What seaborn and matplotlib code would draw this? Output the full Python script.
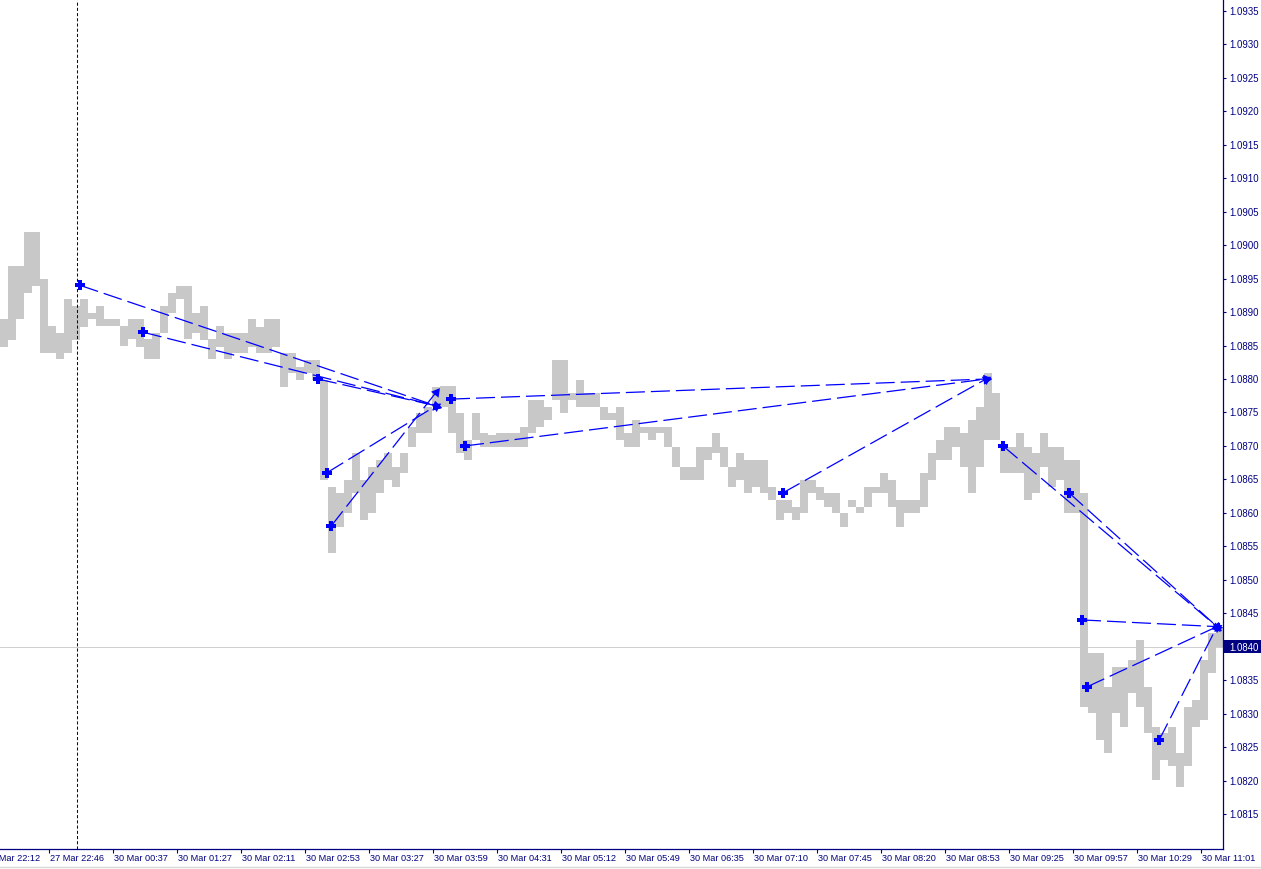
import numpy as np
import pandas as pd
import matplotlib
matplotlib.use("Agg")
import matplotlib.pyplot as plt
import seaborn as sns
from matplotlib.lines import Line2D
from matplotlib.patches import Rectangle

# ---------------- data (EURUSD M1, aggregated 4 bars per column) ----------------
bar_high = [
    1.08890, 1.08969, 1.08969, 1.09020, 1.09020, 1.08950, 1.08879, 1.08869, 1.08920, 1.08909,
    1.08920, 1.08899, 1.08909, 1.08890, 1.08890, 1.08879, 1.08890, 1.08890, 1.08860, 1.08869,
    1.08909, 1.08929, 1.08939, 1.08939, 1.08899, 1.08909, 1.08860, 1.08879, 1.08869, 1.08869,
    1.08869, 1.08890, 1.08878, 1.08890, 1.08890, 1.08839, 1.08839, 1.08818, 1.08828, 1.08828,
    1.08799, 1.08639, 1.08630, 1.08649, 1.08689, 1.08649, 1.08669, 1.08679, 1.08689, 1.08669,
    1.08689, 1.08728, 1.08749, 1.08758, 1.08788, 1.08790, 1.08790, 1.08749, 1.08709, 1.08749,
    1.08719, 1.08716, 1.08719, 1.08719, 1.08719, 1.08728, 1.08769, 1.08769, 1.08758, 1.08828,
    1.08828, 1.08779, 1.08799, 1.08779, 1.08779, 1.08758, 1.08749, 1.08758, 1.08719, 1.08739,
    1.08728, 1.08728, 1.08728, 1.08728, 1.08699, 1.08669, 1.08669, 1.08699, 1.08699, 1.08719,
    1.08699, 1.08669, 1.08689, 1.08679, 1.08679, 1.08679, 1.08639, 1.08619, 1.08619, 1.08609,
    1.08649, 1.08649, 1.08639, 1.08630, 1.08630, 1.08600, 1.08619, 1.08609, 1.08639, 1.08639,
    1.08660, 1.08649, 1.08619, 1.08619, 1.08619, 1.08660, 1.08689, 1.08709, 1.08728, 1.08728,
    1.08719, 1.08739, 1.08758, 1.08809, 1.08779, 1.08699, 1.08699, 1.08719, 1.08699, 1.08689,
    1.08719, 1.08699, 1.08699, 1.08679, 1.08679, 1.08630, 1.08391, 1.08391, 1.08340, 1.08370,
    1.08370, 1.08380, 1.08410, 1.08340, 1.08280, 1.08271, 1.08280, 1.08241, 1.08310, 1.08320,
    1.08380, 1.08421, 1.08429,
]
bar_low = [
    1.08848, 1.08858, 1.08890, 1.08929, 1.08939, 1.08839, 1.08839, 1.08830, 1.08839, 1.08858,
    1.08878, 1.08890, 1.08879, 1.08879, 1.08879, 1.08849, 1.08860, 1.08848, 1.08830, 1.08830,
    1.08869, 1.08899, 1.08920, 1.08860, 1.08869, 1.08858, 1.08830, 1.08848, 1.08830, 1.08839,
    1.08839, 1.08848, 1.08839, 1.08839, 1.08848, 1.08788, 1.08809, 1.08799, 1.08809, 1.08799,
    1.08649, 1.08540, 1.08579, 1.08600, 1.08630, 1.08589, 1.08600, 1.08630, 1.08649, 1.08639,
    1.08660, 1.08699, 1.08719, 1.08719, 1.08758, 1.08758, 1.08719, 1.08689, 1.08679, 1.08709,
    1.08699, 1.08699, 1.08699, 1.08699, 1.08699, 1.08699, 1.08719, 1.08728, 1.08739, 1.08769,
    1.08749, 1.08769, 1.08758, 1.08758, 1.08758, 1.08739, 1.08739, 1.08709, 1.08699, 1.08699,
    1.08719, 1.08709, 1.08719, 1.08699, 1.08669, 1.08649, 1.08649, 1.08649, 1.08679, 1.08689,
    1.08669, 1.08639, 1.08649, 1.08630, 1.08639, 1.08630, 1.08619, 1.08589, 1.08600, 1.08589,
    1.08600, 1.08630, 1.08619, 1.08609, 1.08600, 1.08579, 1.08609, 1.08600, 1.08609, 1.08630,
    1.08630, 1.08609, 1.08579, 1.08600, 1.08600, 1.08609, 1.08649, 1.08679, 1.08679, 1.08699,
    1.08669, 1.08630, 1.08669, 1.08709, 1.08709, 1.08660, 1.08660, 1.08660, 1.08619, 1.08630,
    1.08669, 1.08639, 1.08649, 1.08600, 1.08600, 1.08310, 1.08301, 1.08261, 1.08241, 1.08301,
    1.08280, 1.08331, 1.08310, 1.08271, 1.08201, 1.08231, 1.08221, 1.08191, 1.08221, 1.08280,
    1.08291, 1.08361, 1.08400,
]

time_labels = [
    "27 Mar 22:12", "27 Mar 22:46", "30 Mar 00:37", "30 Mar 01:27", "30 Mar 02:11",
    "30 Mar 02:53", "30 Mar 03:27", "30 Mar 03:59", "30 Mar 04:31", "30 Mar 05:12",
    "30 Mar 05:49", "30 Mar 06:35", "30 Mar 07:10", "30 Mar 07:45", "30 Mar 08:20",
    "30 Mar 08:53", "30 Mar 09:25", "30 Mar 09:57", "30 Mar 10:29", "30 Mar 11:01",
]

# trend lines (x = minute-bar index, y = price)
seg_start_bar = [39.5, 71, 158.5, 163, 165, 225, 232, 391, 501, 534, 540.5, 543, 579]
seg_start_price = [1.0894, 1.0887, 1.0880, 1.0866, 1.0858, 1.0877, 1.0870, 1.0863,
                   1.0870, 1.0863, 1.0844, 1.0834, 1.0826]
seg_end_bar = [217.5, 217.5, 217.5, 217.5, 217.5, 492.5, 492.5, 492.5,
               608, 608, 608, 608, 608]
seg_end_price = [1.0876, 1.0876, 1.0876, 1.0876, 1.0878, 1.0880, 1.0880, 1.0880,
                 1.0843, 1.0843, 1.0843, 1.0843, 1.0843]

bid_price = 1.0840
cursor_bar = 38
y_ticks = [round(1.0815 + 0.0005 * i, 4) for i in range(25)]

# ---------------- styling ----------------
sns.set_theme(style="white")
plt.rcParams["font.family"] = ["Liberation Sans", "DejaVu Sans"]

W, H = 1261, 869
navy = "#000080"
blue = "#0000ff"

fig = plt.figure(figsize=(W / 100, H / 100), dpi=100)
fig.patch.set_facecolor("white")
ax = fig.add_axes([0, 20 / H, 1223 / W, 849 / H])
ax.set_facecolor("white")

# bars
group = 4
n = len(bar_high)
centers = np.arange(n) * group + (group - 1) / 2
hi = np.array(bar_high)
lo = np.array(bar_low)
ax.bar(centers, hi - lo, bottom=lo, width=group, color="#c8c8c8", linewidth=0,
       align="center", zorder=2)

ax.set_xlim(-0.5, 611)
ax.set_ylim(1.080977, 1.093664)

# bid line and cursor line
ax.axhline(bid_price, color="#d0d0d0", lw=0.75, zorder=1)
ax.axvline(cursor_bar, color=navy, lw=0.75, linestyle=(0, (3, 2)), zorder=3)

# trend lines through seaborn
rows = []
for i in range(len(seg_start_bar)):
    rows.append({"seg": i, "bar": seg_start_bar[i], "price": seg_start_price[i]})
    rows.append({"seg": i, "bar": seg_end_bar[i], "price": seg_end_price[i]})
df = pd.DataFrame(rows)
lw = 0.9
sns.lineplot(data=df, x="bar", y="price", units="seg", estimator=None, ax=ax,
             color=blue, linewidth=lw, linestyle=(0, (13.7 / lw, 4.3 / lw)),
             legend=False, zorder=4)
ax.set_xlabel("")
ax.set_ylabel("")

# start markers
ax.plot(seg_start_bar, seg_start_price, linestyle="none", marker="P", ms=6.5,
        color=blue, mew=0, zorder=5)
# end arrowheads, oriented along each line
for i in range(len(seg_start_bar)):
    p0 = ax.transData.transform((seg_start_bar[i], seg_start_price[i]))
    p1 = ax.transData.transform((seg_end_bar[i], seg_end_price[i]))
    ang = np.degrees(np.arctan2(p1[1] - p0[1], p1[0] - p0[0]))
    ax.plot([seg_end_bar[i]], [seg_end_price[i]], linestyle="none",
            marker=(3, 0, ang - 90), ms=8, color=blue, mew=0, zorder=5)

# spines
for s in ["top", "left"]:
    ax.spines[s].set_visible(False)
for s in ["right", "bottom"]:
    ax.spines[s].set_visible(True)
    ax.spines[s].set_color(navy)
    ax.spines[s].set_linewidth(0.9)

# y axis on the right
ax.yaxis.tick_right()
ax.set_yticks(y_ticks)
ax.set_yticklabels([f"{v:.4f}" for v in y_ticks])
ax.tick_params(axis="y", which="both", right=True, left=False, length=2.5, width=0.8,
               color=navy, labelcolor=navy, labelsize=6.9, pad=2)
for lab in ax.get_yticklabels():
    if lab.get_text() == f"{bid_price:.4f}":
        lab.set_color("white")
        lab.set_zorder(10)

# bid price box
y_bid_pix = ax.transData.transform((0, bid_price))[1]
fig.add_artist(Rectangle((1224 / W, (y_bid_pix - 6.5) / H), 37 / W, 13 / H,
                         transform=fig.transFigure, facecolor=navy, edgecolor="none",
                         zorder=-1))

# x axis ticks and labels
tick_pos = [24 + 32 * (k - 1) for k in range(len(time_labels))]
in_range = [p for p in tick_pos if p >= 0]
ax.set_xticks(in_range)
ax.set_xticklabels([""] * len(in_range))
ax.tick_params(axis="x", bottom=True, length=3, width=0.8, color=navy)
for p, lab in zip(tick_pos, time_labels):
    ax.annotate(lab, xy=(p, 0), xycoords=("data", "axes fraction"),
                xytext=(0.8, -3.6), textcoords="offset points", ha="left", va="top",
                color=navy, fontsize=6.6, annotation_clip=False)

ax.grid(False)

# window bottom border
fig.add_artist(Line2D([0, 1], [2.5 / H, 2.5 / H], transform=fig.transFigure,
                      color="#d8d8d8", lw=1))

fig.savefig("out.png", dpi=100, facecolor="white")
